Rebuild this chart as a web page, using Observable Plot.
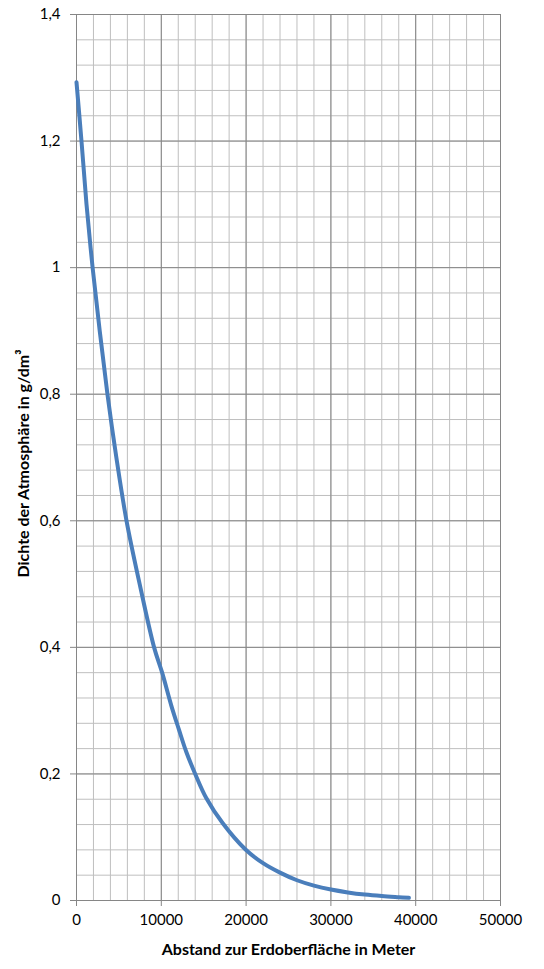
<!DOCTYPE html>
<html><head><meta charset="utf-8">
<script src="https://cdn.jsdelivr.net/npm/d3@7"></script>
<script src="https://cdn.jsdelivr.net/npm/@observablehq/plot@0.6"></script>
<style>body{margin:0;background:#fff}</style>
</head><body><div id="chart"></div>
<script>
const altitude = [0, 600, 1180, 1900, 2740, 3650, 4700, 5900, 7450, 9150, 10100, 11180, 12080, 12940, 14000, 15300, 17250, 19900, 22000, 24000, 26000, 28000, 30000, 32000, 34000, 36000, 38000, 39200];
const density = [1.293, 1.198, 1.1, 1.0, 0.9, 0.8, 0.7, 0.6, 0.5, 0.4, 0.36, 0.308, 0.27, 0.235, 0.2, 0.162, 0.122, 0.081, 0.059, 0.044, 0.032, 0.0235, 0.0173, 0.0128, 0.0094, 0.007, 0.0052, 0.0042];
const xTicks = [0, 10000, 20000, 30000, 40000, 50000];
const yTicks = [0, 0.2, 0.4, 0.6, 0.8, 1, 1.2, 1.4];
const xMinor = d3.range(0, 50001, 2000);
const yMinor = d3.range(0, 36).map(i => i * 0.04);
const xLabel = "Abstand zur Erdoberfläche in Meter";
const yLabel = "Dichte der Atmosphäre in g/dm³";

const data = altitude.map((x, i) => ({x, y: density[i]}));
const fmtY = d => String(d).replace(".", ",");

const chart = Plot.plot({
  width: 544, height: 969,
  marginLeft: 76, marginRight: 44, marginTop: 14, marginBottom: 69,
  style: {fontFamily: "Lato, sans-serif", fontSize: "15px", color: "#000", background: "#fff"},
  x: {domain: [0, 50000]},
  y: {domain: [0, 1.4]},
  marks: [
    Plot.ruleX(xMinor, {stroke: "#bfbfbf", strokeWidth: 1}),
    Plot.ruleY(yMinor, {stroke: "#bfbfbf", strokeWidth: 1}),
    Plot.ruleX(xTicks, {stroke: "#868686", strokeWidth: 1}),
    Plot.ruleY(yTicks, {stroke: "#868686", strokeWidth: 1}),
    Plot.axisX({ticks: xTicks, tickSize: 6, tickPadding: 8, tickFormat: d => String(d), label: null, stroke: "#868686"}),
    Plot.axisY({ticks: yTicks, tickSize: 6, tickPadding: 10, tickFormat: fmtY, label: null, stroke: "#868686"}),
    Plot.line(data, {x: "x", y: "y", stroke: "#4a7ebb", strokeWidth: 4, curve: "catmull-rom"}),
    Plot.text([xLabel], {frameAnchor: "bottom", dy: 49, lineAnchor: "middle", fontWeight: "bold", fontSize: 16}),
    Plot.text([yLabel], {frameAnchor: "left", dx: -53, dy: 6, rotate: -90, lineAnchor: "middle", textAnchor: "middle", fontWeight: "bold", fontSize: 16})
  ]
});
document.getElementById("chart").append(chart);
</script>
</body></html>
